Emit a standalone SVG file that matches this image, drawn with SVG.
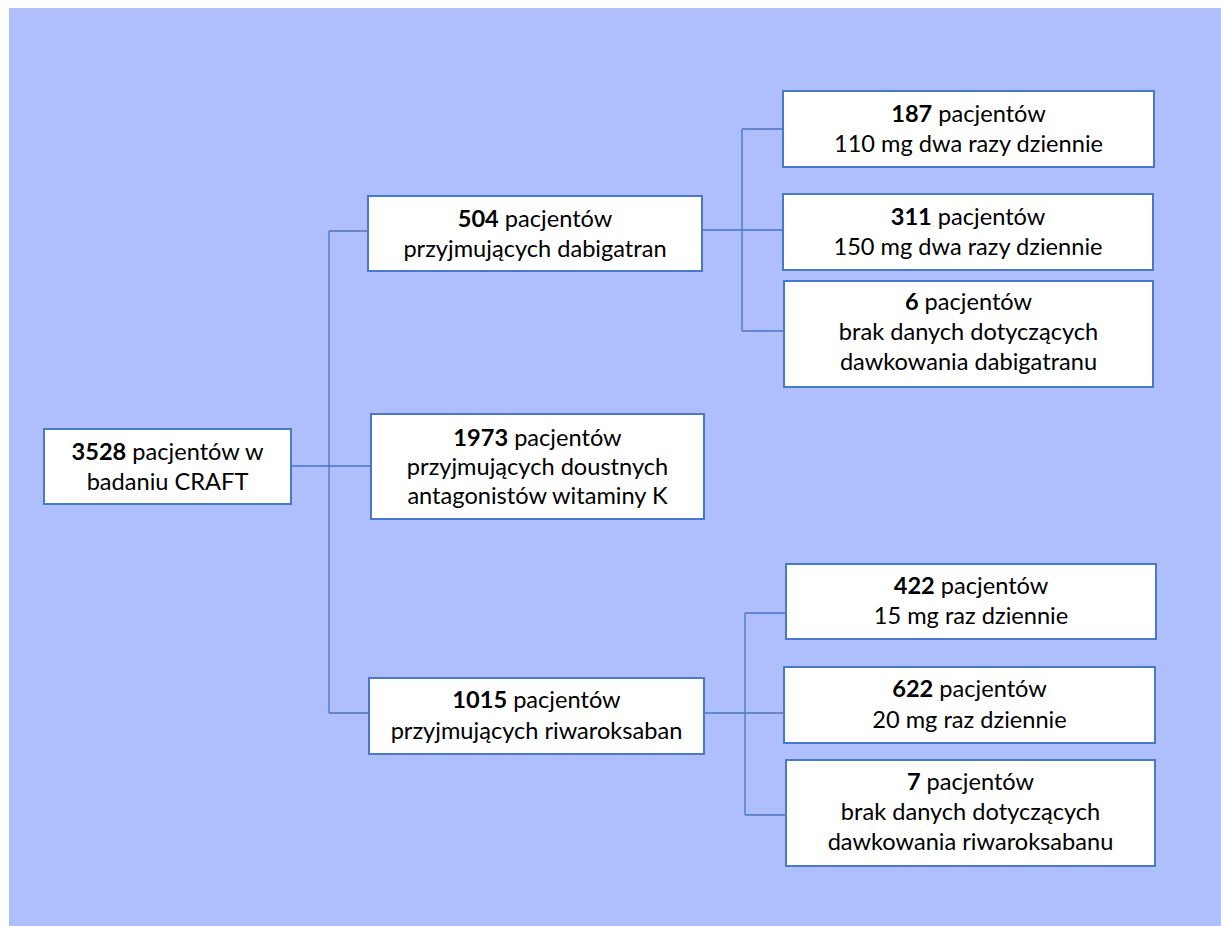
<svg xmlns="http://www.w3.org/2000/svg" width="1221" height="926" viewBox="0 0 1221 926">
<style>
.box{fill:#ffffff;stroke:#4a78c8;stroke-width:2}
.ln{fill:none;stroke:#4a74c4;stroke-width:1.3}
text{font-family:Lato,"Open Sans","Liberation Sans",sans-serif;font-size:23.6px;fill:#000000;text-anchor:middle}
.b{font-weight:bold}
</style>
<rect x="9" y="8" width="1212" height="918" fill="#aebffb"/>
<g id="connectors">
<path class="ln" d="M291 466 H371 M329 231 V713 M329 231 H368 M329 713 H369"/>
<path class="ln" d="M702 230 H783 M742 129 V331 M742 129 H783 M742 331 H784"/>
<path class="ln" d="M704 713 H785 M745 613 V815 M745 613 H786 M745 815 H786"/>
</g>
<g id="root">
<rect class="box" x="44" y="429" width="247" height="75"/>
<text x="167.5" y="460"><tspan class="b">3528</tspan> pacjentów w</text>
<text x="167.5" y="490">badaniu CRAFT</text>
</g>
<g id="dabigatran">
<rect class="box" x="368" y="196" width="334" height="75"/>
<text x="535" y="227"><tspan class="b">504</tspan> pacjentów</text>
<text x="535" y="257">przyjmujących dabigatran</text>
</g>
<g id="vka">
<rect class="box" x="371" y="414" width="333" height="105"/>
<text x="537.5" y="446"><tspan class="b">1973</tspan> pacjentów</text>
<text x="537.5" y="475">przyjmujących doustnych</text>
<text x="537.5" y="504">antagonistów witaminy K</text>
</g>
<g id="riwaroksaban">
<rect class="box" x="369" y="678" width="335" height="76"/>
<text x="536.5" y="708"><tspan class="b">1015</tspan> pacjentów</text>
<text x="536.5" y="739">przyjmujących riwaroksaban</text>
</g>
<g id="d110">
<rect class="box" x="783" y="91" width="371" height="76"/>
<text x="968.5" y="122"><tspan class="b">187</tspan> pacjentów</text>
<text x="968.5" y="152">110 mg dwa razy dziennie</text>
</g>
<g id="d150">
<rect class="box" x="783" y="194" width="370" height="76"/>
<text x="968" y="225"><tspan class="b">311</tspan> pacjentów</text>
<text x="968" y="255">150 mg dwa razy dziennie</text>
</g>
<g id="dbrak">
<rect class="box" x="784" y="281" width="369" height="106"/>
<text x="968.5" y="310"><tspan class="b">6</tspan> pacjentów</text>
<text x="968.5" y="340">brak danych dotyczących</text>
<text x="968.5" y="370">dawkowania dabigatranu</text>
</g>
<g id="r15">
<rect class="box" x="786" y="564" width="370" height="75"/>
<text x="971" y="594"><tspan class="b">422</tspan> pacjentów</text>
<text x="971" y="624">15 mg raz dziennie</text>
</g>
<g id="r20">
<rect class="box" x="784" y="667" width="371" height="76"/>
<text x="969.5" y="697"><tspan class="b">622</tspan> pacjentów</text>
<text x="969.5" y="728">20 mg raz dziennie</text>
</g>
<g id="rbrak">
<rect class="box" x="786" y="760" width="369" height="106"/>
<text x="970.5" y="790"><tspan class="b">7</tspan> pacjentów</text>
<text x="970.5" y="820">brak danych dotyczących</text>
<text x="970.5" y="850">dawkowania riwaroksabanu</text>
</g>
</svg>
